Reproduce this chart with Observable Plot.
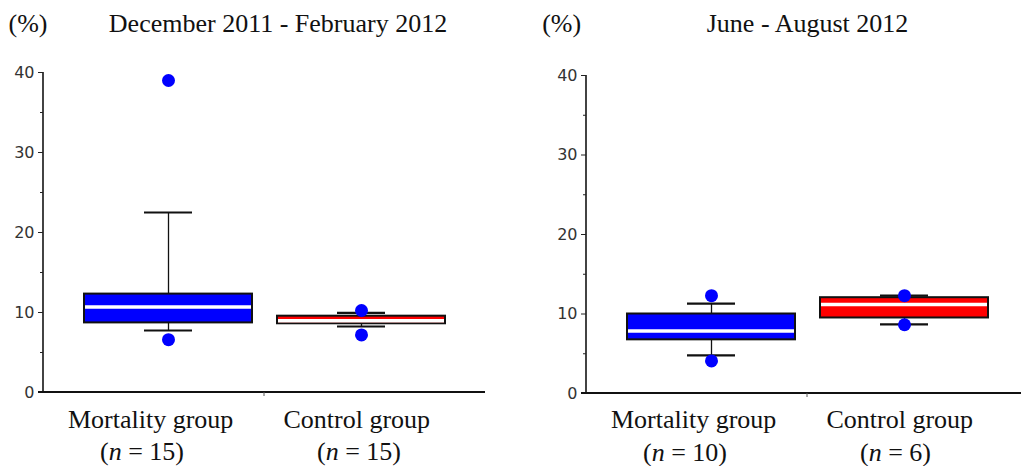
<!DOCTYPE html>
<html><head><meta charset="utf-8">
<script src="https://cdn.jsdelivr.net/npm/d3@7"></script>
<script src="https://cdn.jsdelivr.net/npm/@observablehq/plot@0.6"></script>
<style>
body{margin:0;background:#fff;}
#chart{position:relative;width:1021px;height:466px;overflow:hidden;background:#fff;}
#chart svg{position:absolute;top:0;}
</style></head><body><div id="chart"></div>
<script>
// ---- data ----
const periods = ["December 2011 - February 2012", "June - August 2012"];
const groups = ["Mortality group", "Control group"];
const unitLabel = "(%)";
const nCounts = [[15, 15], [10, 6]];
const q1Values = [[8.7, 8.59], [6.75, 9.5]];
const medianValues = [[10.7, 8.97], [7.85, 11.2]];
const q3Values = [[12.3, 9.54], [10.0, 12.05]];
const whiskerLow = [[7.75, 8.25], [4.8, 8.7]];
const whiskerHigh = [[22.5, 9.96], [11.3, 12.3]];
const outlierValues = [[[39.0, 6.6], [10.25, 7.2]], [[12.3, 4.1], [12.3, 8.65]]];
const yTicks = [0, 10, 20, 30, 40];
const yMinorTicks = [5, 15, 25, 35];
const boxColors = ["#0000ff", "#ff0000"];
const dotColor = "#0000ff";

const serif = "'Liberation Serif', 'Times New Roman', serif";
const sans = "'DejaVu Sans', 'Liberation Sans', Arial, sans-serif";

function axisLines(index, scales, values, dims) {
  const {width, height, marginLeft, marginRight, marginTop, marginBottom} = dims;
  const left = marginLeft, right = width - marginRight, top = marginTop, bottom = height - marginBottom;
  const g = d3.create("svg:g").attr("fill", "none");
  g.append("line").attr("x1", left).attr("x2", left).attr("y1", top).attr("y2", bottom)
    .attr("stroke", "#222").attr("stroke-width", 1.7);
  g.append("line").attr("x1", left - 5).attr("x2", right).attr("y1", bottom).attr("y2", bottom)
    .attr("stroke", "#111").attr("stroke-width", 2);
  const mid = (left + right) / 2;
  g.append("line").attr("x1", mid).attr("x2", mid).attr("y1", bottom).attr("y2", bottom + 4)
    .attr("stroke", "#555").attr("stroke-width", 1);
  return g.node();
}

function panel(pi, layout) {
  const rows = groups.map((g, i) => ({
    group: g, color: boxColors[i], n: `(n = ${nCounts[pi][i]})`,
    q1: q1Values[pi][i], median: medianValues[pi][i], q3: q3Values[pi][i],
    lo: whiskerLow[pi][i], hi: whiskerHigh[pi][i]
  }));
  const pts = [];
  groups.forEach((g, i) => outlierValues[pi][i].forEach(v => pts.push({group: g, value: v})));
  const first = rows.filter(d => d.group === groups[0]);
  const second = rows.filter(d => d.group === groups[1]);
  const textBase = {x: "group", frameAnchor: "bottom", lineAnchor: "bottom", textAnchor: "start",
    fontFamily: serif, fontSize: 26, fill: "#111"};
  const svg = Plot.plot({
    width: 500, height: 466,
    marginLeft: 43, marginRight: 15, marginTop: layout.top, marginBottom: layout.bottom,
    x: {domain: groups, paddingInner: 0.13, paddingOuter: 0.21, axis: null},
    y: {domain: [0, 40], axis: null, label: null},
    color: {type: "identity"},
    style: {background: "transparent", overflow: "visible", fontFamily: sans},
    marks: [
      Plot.axisY({ticks: yMinorTicks, tickSize: 3, tickFormat: () => "", stroke: "#222", label: null}),
      Plot.axisY({ticks: yTicks, tickSize: 5, tickFormat: () => "", stroke: "#222", label: null}),
      Plot.text(yTicks, {y: d => d, text: d => String(d), frameAnchor: "left", textAnchor: "end",
        dx: -9, fontSize: 16, fontFamily: sans, fill: "#333"}),
      axisLines,
      Plot.ruleX(rows, {x: "group", y1: "q3", y2: "hi", stroke: "#111", strokeWidth: 1.3}),
      Plot.ruleX(rows, {x: "group", y1: "lo", y2: "q1", stroke: "#111", strokeWidth: 1.3}),
      Plot.tickY(rows, {x: "group", y: "hi", stroke: "#111", strokeWidth: 2.2, insetLeft: 60, insetRight: 60}),
      Plot.tickY(rows, {x: "group", y: "lo", stroke: "#111", strokeWidth: 2.2, insetLeft: 60, insetRight: 60}),
      Plot.barY(rows, {x: "group", y1: "q1", y2: "q3", fill: "color", stroke: "#111", strokeWidth: 2}),
      Plot.tickY(rows, {x: "group", y: "median", stroke: "#fff", strokeWidth: 3.5, insetLeft: 1, insetRight: 1}),
      Plot.dot(pts, {x: "group", y: "value", r: 6.5, fill: dotColor}),
      Plot.text(first, {...textBase, text: "group", dx: -100.5, dy: layout.labelDy}),
      Plot.text(first, {...textBase, text: "n", dx: -68.5, dy: layout.nDy}),
      Plot.text(second, {...textBase, text: "group", dx: -78, dy: layout.labelDy}),
      Plot.text(second, {...textBase, text: "n", dx: -44.5, dy: layout.nDy}),
      Plot.text([periods[pi]], {text: d => d, frameAnchor: "top", lineAnchor: "bottom", dx: layout.titleDx,
        dy: layout.titleDy, fontFamily: serif, fontSize: 26, fill: "#111"}),
      Plot.text([unitLabel], {text: d => d, frameAnchor: "top-left", lineAnchor: "bottom", textAnchor: "start",
        dx: layout.unitDx, dy: layout.titleDy, fontFamily: serif, fontSize: 26, fill: "#111"})
    ]
  });
  d3.select(svg).selectAll("text").each(function() {
    const m = this.textContent.match(/^\(n = (\d+)\)$/);
    if (m) {
      const s = d3.select(this);
      s.text(null);
      s.append("tspan").text("(");
      s.append("tspan").attr("font-style", "italic").text("n");
      s.append("tspan").text(" = " + m[1] + ")");
    }
  });
  svg.style.left = layout.left + "px";
  return svg;
}

const chart = document.getElementById("chart");
chart.appendChild(panel(0, {left: 0, top: 72, bottom: 74, labelDy: 35, nDy: 67, titleDy: -40.3, titleDx: 13.5, unitDx: -35}));
chart.appendChild(panel(1, {left: 543, top: 75, bottom: 73, labelDy: 34, nDy: 67, titleDy: -43.3, titleDx: 0, unitDx: -44.3}));
</script></body></html>
